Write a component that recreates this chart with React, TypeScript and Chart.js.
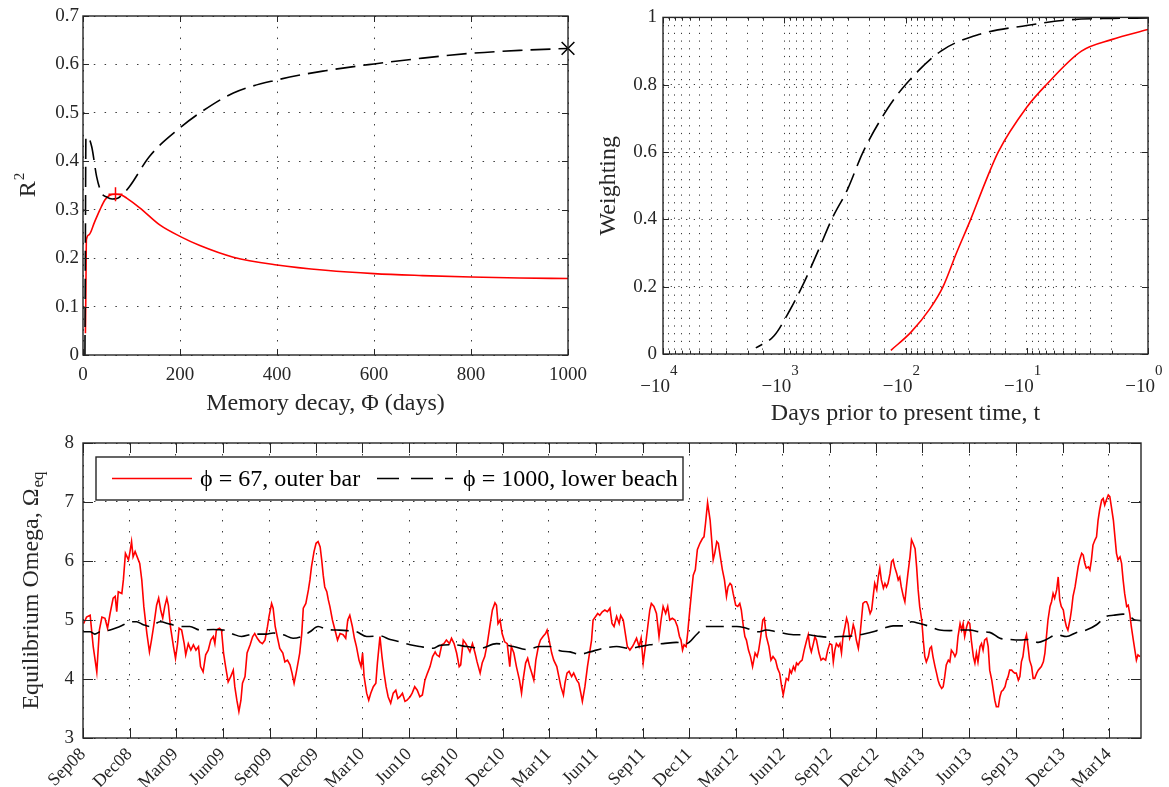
import React, { useEffect, useRef } from 'react';
import { Chart, registerables } from 'chart.js';

Chart.register(...registerables);

const SERIF = '"Liberation Serif", "Times New Roman", Times, "DejaVu Serif", serif';
const INK = '#262626';
const GRID = '#3a3a3a';
const RED = '#ff0000';

// ---------- Panel (a): R^2 versus memory decay ----------
const phiRed = [5, 6, 7, 12, 24, 35, 45, 55, 67, 80, 90, 117, 159, 200, 241, 310, 400, 500, 600, 700, 800, 900, 1000];
const r2Red = [0.045, 0.14, 0.238, 0.248, 0.275, 0.3, 0.32, 0.33, 0.332, 0.33, 0.324, 0.304, 0.268, 0.245, 0.226, 0.202, 0.186, 0.175, 0.168, 0.164, 0.161, 0.159, 0.158];
const phiBlack = [4, 5, 6, 10, 18, 28, 38, 49, 60, 70, 80, 96, 137, 200, 241, 310, 400, 500, 600, 700, 800, 900, 1000];
const r2Black = [0.0, 0.25, 0.45, 0.45, 0.43, 0.369, 0.335, 0.326, 0.322, 0.323, 0.33, 0.348, 0.41, 0.469, 0.5, 0.541, 0.568, 0.587, 0.601, 0.613, 0.623, 0.629, 0.633];
const bestRed = { phi: 67, r2: 0.332 };
const bestBlack = { phi: 1000, r2: 0.633 };
const phiTicks = [0, 200, 400, 600, 800, 1000];
const r2Ticks = [0, 0.1, 0.2, 0.3, 0.4, 0.5, 0.6, 0.7];

// ---------- Panel (b): weighting versus days prior (|t|) ----------
const tBlack = [1, 2, 4.4, 10, 25, 51, 100, 140, 224, 300, 406, 520, 713, 900, 1207, 1715];
const wBlack = [0.998, 0.997, 0.993, 0.976, 0.949, 0.9, 0.8, 0.73, 0.6, 0.49, 0.4, 0.31, 0.2, 0.13, 0.055, 0.018];
const tRed = [1, 2, 3.54, 6.9, 10, 17.2, 22, 29, 38, 49, 63, 90, 132];
const wRed = [0.964, 0.934, 0.9, 0.8, 0.733, 0.6, 0.51, 0.4, 0.3, 0.2, 0.134, 0.065, 0.011];
const weightTicks = [0, 0.2, 0.4, 0.6, 0.8, 1];

// ---------- Panel (c): equilibrium omega time series (day since 1 Sep 2008, value) ----------
const seriesLabels = ['\u03D5 = 67, outer bar', '\u03D5 = 1000, lower beach'];
const quarterLabels = ['Sep08', 'Dec08', 'Mar09', 'Jun09', 'Sep09', 'Dec09', 'Mar10', 'Jun10', 'Sep10', 'Dec10', 'Mar11', 'Jun11', 'Sep11', 'Dec11', 'Mar12', 'Jun12', 'Sep12', 'Dec12', 'Mar13', 'Jun13', 'Sep13', 'Dec13', 'Mar14'];
const omegaTicks = [3, 4, 5, 6, 7, 8];
const lastDay = 2070;

const omegaOuterBar: [number, number][] = [
  [1, 4.94], [7, 5.05], [14, 5.08], [20, 4.55], [27, 4.12], [32, 4.83], [37, 5.05], [43, 5.03], [48, 4.86], [53, 5.11], [59, 5.37], [63, 5.4], [66, 5.14], [69, 5.48], [76, 5.45], [79, 5.68], [83, 6.13], [89, 6.02], [92, 6.16], [95, 6.33], [98, 6.07], [102, 6.16], [106, 6.07], [111, 5.96], [115, 5.68], [119, 5.23], [125, 4.77], [130, 4.46], [134, 4.66], [139, 4.94], [144, 5.25], [148, 5.37], [152, 5.17], [156, 5.03], [160, 5.23], [164, 5.37], [167, 5.25], [171, 4.89], [177, 4.55], [181, 4.35], [185, 4.6], [188, 4.86], [193, 4.83], [198, 4.6], [201, 4.41], [206, 4.6], [211, 4.49], [216, 4.58], [221, 4.49], [226, 4.55], [230, 4.21], [235, 4.12], [240, 4.41], [245, 4.49], [250, 4.66], [255, 4.72], [258, 4.6], [261, 4.83], [267, 4.86], [271, 4.83], [275, 4.44], [279, 4.21], [284, 3.95], [289, 4.04], [294, 4.15], [297, 3.87], [301, 3.64], [305, 3.45], [309, 3.64], [312, 3.93], [317, 4.04], [321, 4.44], [327, 4.58], [332, 4.72], [336, 4.77], [341, 4.69], [346, 4.63], [351, 4.6], [356, 4.66], [361, 4.89], [364, 5.06], [369, 5.28], [372, 5.2], [376, 4.89], [380, 4.72], [385, 4.52], [391, 4.44], [395, 4.29], [400, 4.32], [405, 4.24], [409, 4.1], [413, 3.93], [417, 4.1], [421, 4.29], [424, 4.44], [428, 4.77], [431, 5.2], [436, 5.28], [441, 5.51], [444, 5.68], [447, 5.9], [452, 6.16], [456, 6.3], [460, 6.33], [464, 6.24], [467, 6.02], [470, 5.76], [473, 5.56], [477, 5.48], [480, 5.34], [483, 5.23], [488, 5.0], [493, 4.83], [498, 4.66], [503, 4.77], [509, 4.75], [514, 4.69], [518, 5.0], [522, 5.08], [527, 4.89], [531, 4.69], [535, 4.55], [540, 4.32], [544, 4.21], [547, 4.44], [550, 4.04], [555, 3.76], [559, 3.64], [563, 3.76], [568, 3.87], [573, 3.93], [576, 4.27], [581, 4.72], [585, 4.38], [589, 4.1], [593, 3.87], [597, 3.7], [602, 3.59], [607, 3.76], [612, 3.81], [616, 3.67], [620, 3.7], [625, 3.76], [630, 3.62], [634, 3.64], [640, 3.7], [644, 3.76], [649, 3.87], [654, 3.81], [659, 3.7], [664, 3.73], [669, 3.98], [674, 4.1], [679, 4.21], [684, 4.38], [689, 4.46],
  [692, 4.41], [697, 4.38], [702, 4.58], [706, 4.6], [711, 4.66], [717, 4.6], [721, 4.69], [726, 4.6], [731, 4.44], [736, 4.21], [739, 4.24], [744, 4.66], [749, 4.6], [752, 4.55], [757, 4.46], [762, 4.6], [767, 4.44], [771, 4.29], [777, 4.1], [781, 4.27], [786, 4.38], [791, 4.6], [796, 4.89], [801, 5.17], [806, 5.29], [809, 5.25], [812, 4.94], [816, 5.0], [820, 4.77], [825, 4.63], [830, 4.6], [835, 4.21], [838, 4.55], [843, 4.44], [848, 4.21], [854, 3.98], [858, 3.76], [861, 3.98], [866, 4.27], [870, 4.35], [874, 4.21], [878, 4.1], [882, 3.98], [886, 4.32], [891, 4.55], [895, 4.66], [900, 4.72], [905, 4.77], [908, 4.83], [912, 4.66], [917, 4.44], [921, 4.32], [927, 4.21], [931, 4.04], [935, 3.87], [940, 3.73], [943, 3.93], [947, 4.1], [951, 4.13], [956, 4.04], [960, 4.1], [966, 3.98], [970, 3.93], [974, 3.76], [977, 3.62], [982, 3.87], [987, 4.21], [990, 4.38], [995, 4.66], [998, 5.0], [1003, 5.06], [1007, 5.11], [1011, 5.08], [1016, 5.14], [1021, 5.17], [1026, 5.14], [1031, 5.2], [1035, 4.94], [1039, 4.89], [1044, 5.06], [1049, 4.94], [1052, 5.08], [1057, 5.0], [1062, 4.72], [1065, 4.55], [1070, 4.49], [1075, 4.55], [1078, 4.6], [1083, 4.69], [1088, 4.55], [1092, 4.69], [1096, 4.27], [1101, 4.6], [1105, 4.89], [1109, 5.17], [1112, 5.28], [1117, 5.23], [1122, 5.11], [1127, 4.72], [1131, 5.0], [1135, 5.23], [1140, 5.11], [1144, 5.23], [1148, 5.0], [1153, 5.03], [1158, 5.0], [1163, 4.89], [1167, 4.72], [1170, 4.66], [1173, 4.49], [1176, 4.58], [1180, 4.55], [1183, 4.77], [1186, 5.06], [1191, 5.51], [1194, 5.76], [1198, 5.85], [1202, 6.19], [1207, 6.3], [1212, 6.38], [1215, 6.41], [1218, 6.64], [1222, 6.99], [1227, 6.69], [1230, 6.36], [1233, 6.02], [1236, 6.13], [1240, 6.33], [1243, 6.3], [1247, 6.07], [1251, 5.85], [1255, 5.68], [1259, 5.4], [1262, 5.56], [1266, 5.62], [1269, 5.59], [1272, 5.45], [1277, 5.25], [1281, 5.23], [1285, 5.28], [1288, 5.17], [1292, 4.89], [1295, 4.72], [1298, 4.66], [1302, 4.49], [1306, 4.38], [1310, 4.21], [1315, 4.44], [1319, 4.38], [1322, 4.49], [1326, 4.72], [1330, 5.0], [1333, 5.03], [1337, 4.72], [1342, 4.55], [1346, 4.32], [1350, 4.38], [1355, 4.32], [1359, 4.18],
  [1363, 4.1], [1367, 3.87], [1370, 3.73], [1373, 3.87], [1376, 4.01], [1380, 3.98], [1383, 4.15], [1386, 4.1], [1390, 4.21], [1393, 4.15], [1396, 4.27], [1399, 4.24], [1403, 4.29], [1407, 4.32], [1411, 4.49], [1416, 4.66], [1419, 4.75], [1422, 4.55], [1425, 4.46], [1429, 4.6], [1432, 4.72], [1435, 4.66], [1440, 4.44], [1444, 4.32], [1448, 4.35], [1453, 4.32], [1457, 4.49], [1461, 4.6], [1465, 4.58], [1468, 4.29], [1471, 4.49], [1474, 4.6], [1478, 4.55], [1481, 4.6], [1484, 4.44], [1487, 4.72], [1491, 4.89], [1494, 5.03], [1497, 4.94], [1500, 4.69], [1504, 4.77], [1507, 4.92], [1510, 4.83], [1513, 4.66], [1517, 4.52], [1520, 4.72], [1523, 5.0], [1526, 5.28], [1530, 5.31], [1533, 5.31], [1536, 5.25], [1540, 5.11], [1543, 5.17], [1546, 5.4], [1549, 5.62], [1553, 5.51], [1556, 5.73], [1559, 5.88], [1562, 5.68], [1566, 5.54], [1569, 5.62], [1572, 5.56], [1575, 5.62], [1579, 5.79], [1582, 5.99], [1585, 6.02], [1588, 5.9], [1592, 5.79], [1595, 5.68], [1598, 5.73], [1601, 5.56], [1605, 5.4], [1608, 5.31], [1611, 5.56], [1614, 5.79], [1618, 6.07], [1621, 6.36], [1624, 6.3], [1628, 6.21], [1631, 5.9], [1634, 5.51], [1637, 5.23], [1641, 5.0], [1644, 4.66], [1647, 4.38], [1650, 4.29], [1654, 4.38], [1657, 4.52], [1660, 4.55], [1663, 4.38], [1667, 4.21], [1670, 4.1], [1673, 3.98], [1676, 3.9], [1680, 3.84], [1683, 3.87], [1686, 4.04], [1689, 4.24], [1693, 4.32], [1696, 4.29], [1699, 4.49], [1703, 4.44], [1706, 4.38], [1709, 4.44], [1712, 4.72], [1716, 4.94], [1719, 4.83], [1722, 4.94], [1725, 4.72], [1729, 4.89], [1732, 4.97], [1735, 4.94], [1738, 4.66], [1742, 4.38], [1745, 4.27], [1748, 4.44], [1751, 4.29], [1755, 4.55], [1758, 4.6], [1761, 4.49], [1764, 4.66], [1768, 4.69], [1771, 4.55], [1774, 4.15], [1778, 3.98], [1781, 3.81], [1784, 3.64], [1787, 3.53], [1791, 3.53], [1794, 3.7], [1797, 3.79], [1800, 3.81], [1804, 3.87], [1807, 3.98], [1810, 4.04], [1813, 4.15], [1817, 4.15], [1820, 4.12], [1823, 4.1], [1826, 4.1], [1830, 3.98], [1833, 4.04], [1836, 4.29], [1839, 4.38], [1843, 4.66], [1846, 4.75], [1849, 4.55], [1852, 4.32], [1856, 4.21], [1859, 4.01], [1862, 4.01], [1866, 4.1], [1869, 4.15], [1872, 4.18], [1875, 4.21], [1879, 4.29], [1882, 4.44], [1885, 4.72], [1888, 5.0], [1892, 5.23], [1895, 5.31], [1898, 5.45], [1901, 5.37], [1905, 5.51], [1908, 5.73], [1911, 5.34], [1914, 5.23], [1918, 5.17], [1921, 5.0], [1924, 4.89], [1927, 4.83], [1931, 5.0], [1934, 5.17], [1937, 5.4], [1941, 5.56], [1944, 5.73], [1947, 5.9], [1950, 6.02], [1954, 6.13], [1957, 6.1], [1960, 5.96], [1963, 5.88], [1967, 5.9], [1970, 5.85], [1973, 6.02], [1976, 6.27], [1980, 6.36], [1983, 6.41], [1986, 6.69], [1989, 6.86], [1993, 7.03], [1996, 7.06], [1999, 6.95], [2002, 7.03], [2006, 7.12], [2009, 7.09], [2012, 6.92], [2016, 6.69], [2019, 6.41], [2022, 6.13], [2025, 6.02], [2029, 6.07], [2032, 5.96], [2035, 5.68], [2038, 5.45], [2042, 5.23], [2045, 5.25], [2048, 5.11], [2051, 4.89], [2055, 4.66], [2058, 4.49], [2061, 4.32], [2064, 4.41], [2068, 4.38]
];

const omegaLowerBeach: [number, number][] = [
  [0, 4.8], [14, 4.8], [23, 4.76], [33, 4.8], [53, 4.83], [72, 4.89], [95, 4.97], [105, 4.97], [118, 4.92], [131, 4.89], [151, 4.97], [170, 4.93], [190, 4.89], [209, 4.89], [229, 4.83], [255, 4.84], [275, 4.83], [294, 4.76], [310, 4.72], [333, 4.76], [359, 4.76], [372, 4.78], [392, 4.75], [411, 4.69], [428, 4.72], [444, 4.8], [460, 4.89], [477, 4.84], [496, 4.83], [516, 4.82], [535, 4.8], [555, 4.72], [581, 4.73], [601, 4.67], [620, 4.63], [640, 4.58], [659, 4.55], [685, 4.52], [698, 4.57], [724, 4.58], [751, 4.55], [777, 4.52], [809, 4.6], [842, 4.55], [868, 4.5], [894, 4.55], [914, 4.55], [933, 4.48], [953, 4.46], [972, 4.42], [992, 4.46], [1018, 4.52], [1044, 4.55], [1070, 4.52], [1090, 4.55], [1109, 4.58], [1135, 4.6], [1161, 4.62], [1181, 4.6], [1200, 4.75], [1220, 4.89], [1240, 4.89], [1259, 4.89], [1279, 4.89], [1298, 4.86], [1321, 4.8], [1337, 4.83], [1357, 4.8], [1390, 4.75], [1416, 4.75], [1435, 4.73], [1455, 4.71], [1481, 4.72], [1507, 4.73], [1526, 4.76], [1546, 4.8], [1566, 4.86], [1585, 4.9], [1608, 4.9], [1621, 4.97], [1637, 4.94], [1657, 4.89], [1676, 4.83], [1696, 4.82], [1716, 4.83], [1735, 4.83], [1755, 4.8], [1774, 4.79], [1794, 4.69], [1813, 4.67], [1833, 4.66], [1852, 4.67], [1869, 4.62], [1885, 4.67], [1905, 4.75], [1924, 4.72], [1944, 4.79], [1963, 4.83], [1983, 4.92], [2002, 5.06], [2016, 5.08], [2035, 5.1], [2048, 5.06], [2058, 5.0], [2070, 4.99]
];

// ---------- helpers ----------
const MONTHS: Record<string, number> = { Jan: 0, Feb: 1, Mar: 2, Apr: 3, May: 4, Jun: 5, Jul: 6, Aug: 7, Sep: 8, Oct: 9, Nov: 10, Dec: 11 };
const START = Date.UTC(2008, 8, 1);
const labelToDay = (lab: string) => Math.round((Date.UTC(2000 + Number(lab.slice(3)), MONTHS[lab.slice(0, 3)], 1) - START) / 86400000);
const quarterDays = quarterLabels.map(labelToDay);

const isPow10 = (v: number) => Math.abs(Math.log10(v) - Math.round(Math.log10(v))) < 1e-9;
const xy = (xs: number[], ys: number[]) => xs.map((x, i) => ({ x, y: ys[i] }));
const pairs = (p: [number, number][]) => p.map(([x, y]) => ({ x, y }));
const plain = (v: number) => String(Math.round(v * 10) / 10);

const tickFont = { family: SERIF, size: 19 };
const titleFont = { family: SERIF, size: 24 };

const matlabAxes = {
  id: 'matlabAxes',
  afterDraw(chart: any, _args: any, opts: any) {
    const { ctx, chartArea: a, scales } = chart;
    const len = opts.tickLength || 6;
    ctx.save();
    ctx.strokeStyle = INK;
    ctx.lineWidth = 1;
    ctx.setLineDash([]);
    ctx.beginPath();
    const xs = scales.x;
    const ys = scales.y;
    for (const t of xs.ticks) {
      const major = !opts.logX || isPow10(t.value);
      const l = major ? len : len * 0.55;
      const px = Math.round(xs.getPixelForValue(t.value)) + 0.5;
      ctx.moveTo(px, a.bottom);
      ctx.lineTo(px, a.bottom - l);
      ctx.moveTo(px, a.top);
      ctx.lineTo(px, a.top + l);
    }
    for (const t of ys.ticks) {
      const py = Math.round(ys.getPixelForValue(t.value)) + 0.5;
      ctx.moveTo(a.left, py);
      ctx.lineTo(a.left + len, py);
      ctx.moveTo(a.right, py);
      ctx.lineTo(a.right - len, py);
    }
    ctx.stroke();
    ctx.lineWidth = 1.4;
    ctx.strokeRect(a.left, a.top, a.right - a.left, a.bottom - a.top);

    if (opts.logX) {
      ctx.fillStyle = INK;
      ctx.textBaseline = 'middle';
      for (const t of xs.ticks) {
        if (!isPow10(t.value)) continue;
        const px = xs.getPixelForValue(t.value);
        const exp = String(Math.round(Math.log10(t.value)));
        ctx.font = `19px ${SERIF}`;
        ctx.textAlign = 'right';
        ctx.fillText('\u221210', px + 7, a.bottom + 33);
        ctx.font = `15px ${SERIF}`;
        ctx.textAlign = 'left';
        ctx.fillText(exp, px + 7, a.bottom + 17);
      }
    }
    if (opts.r2Title) {
      ctx.save();
      ctx.translate(27, (a.top + a.bottom) / 2);
      ctx.rotate(-Math.PI / 2);
      ctx.fillStyle = INK;
      ctx.textBaseline = 'alphabetic';
      ctx.textAlign = 'left';
      ctx.font = `24px ${SERIF}`;
      const wR = ctx.measureText('R').width;
      ctx.font = `15px ${SERIF}`;
      const w2 = ctx.measureText('2').width;
      const start = -(wR + w2) / 2;
      ctx.font = `24px ${SERIF}`;
      ctx.fillText('R', start, 8);
      ctx.font = `15px ${SERIF}`;
      ctx.fillText('2', start + wR + 1, -3);
      ctx.restore();
    }
    if (opts.omegaTitle) {
      ctx.save();
      ctx.translate(30, (a.top + a.bottom) / 2);
      ctx.rotate(-Math.PI / 2);
      ctx.fillStyle = INK;
      ctx.textAlign = 'left';
      ctx.textBaseline = 'alphabetic';
      const main = 'Equilibrium Omega, \u03A9';
      ctx.font = `24px ${SERIF}`;
      const w1 = ctx.measureText(main).width;
      ctx.font = `17px ${SERIF}`;
      const w2 = ctx.measureText('eq').width;
      const start = -(w1 + w2 + 1) / 2;
      ctx.font = `24px ${SERIF}`;
      ctx.fillText(main, start, 8);
      ctx.font = `17px ${SERIF}`;
      ctx.fillText('eq', start + w1 + 1, 13);
      ctx.restore();
    }
    ctx.restore();
  },
};

const omegaLegend = {
  id: 'omegaLegend',
  afterDatasetsDraw(chart: any) {
    const { ctx, chartArea: a } = chart;
    const left = a.left + 13;
    const right = a.left + 600;
    const top = a.top + 14;
    const bottom = a.top + 57;
    const cy = (top + bottom) / 2;
    ctx.save();
    ctx.fillStyle = '#ffffff';
    ctx.fillRect(left, top, right - left, bottom - top);
    ctx.strokeStyle = INK;
    ctx.lineWidth = 1.4;
    ctx.setLineDash([]);
    ctx.strokeRect(left, top, right - left, bottom - top);
    const ds = chart.data.datasets;
    ctx.beginPath();
    ctx.strokeStyle = RED;
    ctx.lineWidth = 1.6;
    ctx.moveTo(left + 16, cy);
    ctx.lineTo(left + 96, cy);
    ctx.stroke();
    ctx.fillStyle = '#000';
    ctx.font = `24px ${SERIF}`;
    ctx.textBaseline = 'middle';
    ctx.textAlign = 'left';
    ctx.fillText(ds[0].label, left + 104, cy + 1);
    ctx.beginPath();
    ctx.strokeStyle = '#000';
    ctx.setLineDash([22, 12]);
    ctx.moveTo(left + 281, cy);
    ctx.lineTo(left + 357, cy);
    ctx.stroke();
    ctx.setLineDash([]);
    ctx.fillText(ds[1].label, left + 367, cy + 1);
    ctx.restore();
  },
};

function gridOpts(dash: number[]) {
  return {
    grid: { color: GRID, lineWidth: 1, drawTicks: false },
    border: { display: false, dash },
  };
}

function configR2(): any {
  return {
    type: 'line',
    data: {
      datasets: [
        { label: 'outer bar', data: xy(phiRed, r2Red), borderColor: RED, borderWidth: 1.6, pointRadius: 0, cubicInterpolationMode: 'monotone', order: 2 },
        { label: 'lower beach', data: xy(phiBlack, r2Black), borderColor: '#000', borderWidth: 1.6, borderDash: [20, 8], pointRadius: 0, cubicInterpolationMode: 'monotone', order: 1 },
        { label: 'best outer', data: [{ x: bestRed.phi, y: bestRed.r2 }], showLine: false, pointStyle: 'cross', pointRadius: 7, borderColor: RED, borderWidth: 1.5, clip: false, order: 0 },
        { label: 'best lower', data: [{ x: bestBlack.phi, y: bestBlack.r2 }], showLine: false, pointStyle: 'crossRot', pointRadius: 9, borderColor: '#000', borderWidth: 1.5, clip: false, order: 0 },
      ],
    },
    options: {
      responsive: false,
      animation: false,
      events: [],
      layout: { padding: { top: 16, right: 32, left: 0, bottom: 0 } },
      plugins: { legend: { display: false }, tooltip: { enabled: false }, matlabAxes: { tickLength: 6, r2Title: true } },
      scales: {
        x: {
          type: 'linear', min: 0, max: 1000,
          afterBuildTicks: (s: any) => { s.ticks = phiTicks.map((v) => ({ value: v })); },
          ticks: { font: tickFont, color: INK, padding: 9, maxRotation: 0, autoSkip: false, callback: (v: number) => String(v) },
          ...gridOpts([1.5, 9.3]),
          title: { display: true, text: 'Memory decay, \u03A6 (days)', font: titleFont, color: INK, padding: { bottom: 22 } },
          afterFit: (s: any) => { s.height = 85; },
        },
        y: {
          type: 'linear', min: 0, max: 0.7,
          afterBuildTicks: (s: any) => { s.ticks = r2Ticks.map((v) => ({ value: v })); },
          ticks: { font: tickFont, color: INK, padding: 4, callback: plain },
          ...gridOpts([1.5, 9.3]),
          title: { display: false },
          afterFit: (s: any) => { s.width = 83; },
        },
      },
    },
    plugins: [matlabAxes],
  };
}

function configWeight(): any {
  return {
    type: 'line',
    data: {
      datasets: [
        { label: 'outer bar', data: xy(tRed, wRed), borderColor: RED, borderWidth: 1.6, pointRadius: 0, cubicInterpolationMode: 'monotone' },
        { label: 'lower beach', data: xy(tBlack, wBlack), borderColor: '#000', borderWidth: 1.6, borderDash: [20, 8], pointRadius: 0, cubicInterpolationMode: 'monotone' },
      ],
    },
    options: {
      responsive: false,
      animation: false,
      events: [],
      layout: { padding: { top: 16, right: 21, left: 0, bottom: 0 } },
      plugins: { legend: { display: false }, tooltip: { enabled: false }, matlabAxes: { tickLength: 6, logX: true } },
      scales: {
        x: {
          type: 'logarithmic', min: 1, max: 10000, reverse: true,
          ticks: { display: false, autoSkip: false },
          ...gridOpts([1.2, 6.5]),
          title: { display: true, text: 'Days prior to present time, t', font: titleFont, color: INK, padding: { bottom: 12 } },
          afterFit: (s: any) => { s.height = 86; },
        },
        y: {
          type: 'linear', min: 0, max: 1,
          afterBuildTicks: (s: any) => { s.ticks = weightTicks.map((v) => ({ value: v })); },
          ticks: { font: tickFont, color: INK, padding: 6, callback: plain },
          ...gridOpts([1.2, 6.5]),
          title: { display: true, text: 'Weighting', font: titleFont, color: INK, padding: { top: 14 } },
          afterFit: (s: any) => { s.width = 83; },
        },
      },
    },
    plugins: [matlabAxes],
  };
}

function configOmega(): any {
  return {
    type: 'line',
    data: {
      datasets: [
        { label: seriesLabels[0], data: pairs(omegaOuterBar), borderColor: RED, borderWidth: 1.6, pointRadius: 0, tension: 0, order: 2 },
        { label: seriesLabels[1], data: pairs(omegaLowerBeach), borderColor: '#000', borderWidth: 1.6, borderDash: [18, 8], pointRadius: 0, cubicInterpolationMode: 'monotone', order: 1 },
      ],
    },
    options: {
      responsive: false,
      animation: false,
      events: [],
      layout: { padding: { top: 23, right: 28, left: 0, bottom: 0 } },
      plugins: { legend: { display: false }, tooltip: { enabled: false }, matlabAxes: { tickLength: 10, omegaTitle: true } },
      scales: {
        x: {
          type: 'linear', min: 0, max: lastDay,
          afterBuildTicks: (s: any) => { s.ticks = quarterDays.map((v) => ({ value: v })); },
          ticks: {
            font: { family: SERIF, size: 18 }, color: INK, padding: 6, autoSkip: false, minRotation: 45, maxRotation: 45,
            callback: (v: number) => { const i = quarterDays.indexOf(v); return i >= 0 ? quarterLabels[i] : ''; },
          },
          ...gridOpts([1.5, 9.5]),
          afterFit: (s: any) => { s.height = 49; },
        },
        y: {
          type: 'linear', min: 3, max: 8,
          afterBuildTicks: (s: any) => { s.ticks = omegaTicks.map((v) => ({ value: v })); },
          ticks: { font: tickFont, color: INK, padding: 9 },
          ...gridOpts([1.5, 9.5]),
          afterFit: (s: any) => { s.width = 83; },
        },
      },
    },
    plugins: [matlabAxes, omegaLegend],
  };
}

export default function App() {
  const refA = useRef<HTMLCanvasElement>(null);
  const refB = useRef<HTMLCanvasElement>(null);
  const refC = useRef<HTMLCanvasElement>(null);

  useEffect(() => {
    const charts = [
      new Chart(refA.current as HTMLCanvasElement, configR2()),
      new Chart(refB.current as HTMLCanvasElement, configWeight()),
      new Chart(refC.current as HTMLCanvasElement, configOmega()),
    ];
    return () => charts.forEach((c) => c.destroy());
  }, []);

  return (
    <div style={{ position: 'absolute', left: 0, top: 0, width: 1169, height: 787, background: '#ffffff', overflow: 'hidden' }}>
      <canvas ref={refA} width={600} height={440} style={{ position: 'absolute', left: 0, top: 0 }} />
      <canvas ref={refB} width={589} height={440} style={{ position: 'absolute', left: 580, top: 0 }} />
      <canvas ref={refC} width={1169} height={367} style={{ position: 'absolute', left: 0, top: 420 }} />
    </div>
  );
}
